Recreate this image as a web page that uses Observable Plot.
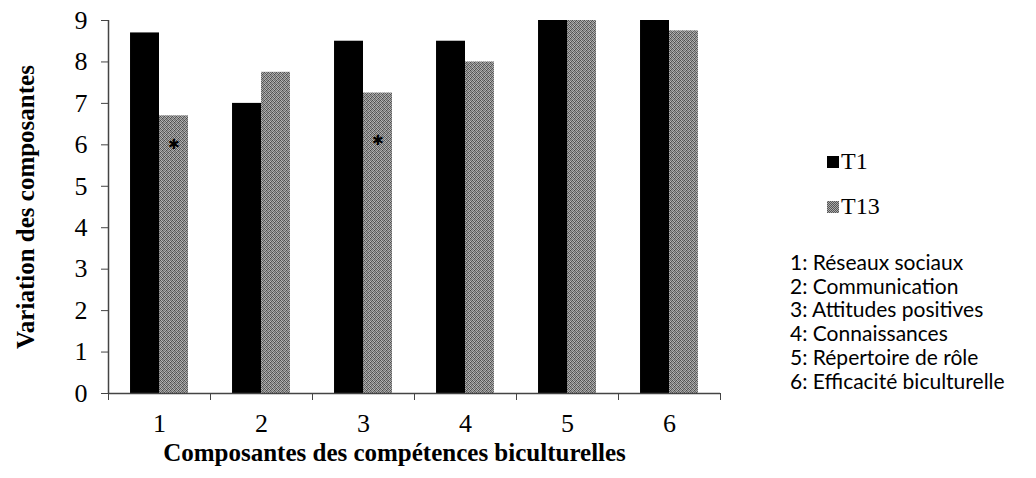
<!DOCTYPE html>
<html>
<head>
<meta charset="utf-8">
<script src="https://cdn.jsdelivr.net/npm/d3@7"></script>
<script src="https://cdn.jsdelivr.net/npm/@observablehq/plot@0.6"></script>
<style>
  html, body { margin: 0; padding: 0; background: #fff; }
  #wrap { position: relative; width: 1036px; height: 478px; }
  #legend { position: absolute; left: 0; top: 0; }
  #wrap svg g[aria-label$="tick label"] text { font-size: 26px; }
  .key { position: absolute; left: 827px; display: flex; align-items: center;
         font-family: "Liberation Serif", "Times New Roman", serif; font-size: 24px; color: #000; }
  .key .sw { width: 12px; height: 12px; margin-right: 2px; }
  .names { position: absolute; left: 790px; top: 250px;
           font-family: Lato, "Noto Sans", sans-serif; font-size: 21px; line-height: 23.7px; color: #000; white-space: nowrap; }
</style>
</head>
<body>
<div id="wrap"><div id="legend"></div></div>
<script>
// Biculturalism components measured at T1 and T13
const categories = [1, 2, 3, 4, 5, 6];
const componentNames = [
  "Réseaux sociaux",
  "Communication",
  "Attitudes positives",
  "Connaissances",
  "Répertoire de rôle",
  "Efficacité biculturelle"
];
const seriesNames = ["T1", "T13"];
const valuesT1 = [8.7, 7.0, 8.5, 8.5, 9.0, 9.0];
const valuesT13 = [6.7, 7.75, 7.25, 8.0, 9.0, 8.75];
// significance markers drawn on the T13 bars
const starCategories = [1, 3];
const starValues = [6.0, 6.1];
const yTicks = [0, 1, 2, 3, 4, 5, 6, 7, 8, 9];

// T13 is printed with a halftone grey: a small fixed dither tile
const ditherTile = [
  "#4d4d4d", "#b5b5b5", "#6e6e6e", "#9c9c9c",
  "#a6a6a6", "#5e5e5e", "#bdbdbd", "#555555",
  "#7a7a7a", "#adadad", "#4a4a4a", "#a0a0a0",
  "#b0b0b0", "#646464", "#999999", "#6a6a6a"
];
const seriesColors = ["#000000", "url(#t13-dither)"];
const barWidth = 0.284;   // in category units

const rows = [];
categories.forEach((c, i) => {
  rows.push({cat: c, series: "T1", value: valuesT1[i]});
  rows.push({cat: c, series: "T13", value: valuesT13[i]});
});
const stars = starCategories.map((c, i) => ({cat: c, value: starValues[i]}));
const boundaries = d3.range(categories.length + 1).map(i => categories[0] - 0.5 + i);

const serif = "Liberation Serif, Times New Roman, serif";

const chart = Plot.plot({
  width: 1036,
  height: 478,
  marginLeft: 108,
  marginRight: 316,
  marginTop: 20,
  marginBottom: 85,
  style: {fontFamily: serif, fontSize: "26px", color: "#000", background: "#fff"},
  x: {type: "linear", domain: [0.5, 6.5]},
  y: {domain: [0, 9]},
  color: {domain: seriesNames, range: seriesColors},
  marks: [
    Plot.rectY(rows, {
      x1: d => d.series === "T1" ? d.cat - barWidth : d.cat,
      x2: d => d.series === "T1" ? d.cat : d.cat + barWidth,
      y1: 0,
      y2: "value",
      fill: "series"
    }),
    Plot.text(stars, {x: d => d.cat + barWidth / 2, y: "value", text: () => "✱", fontSize: 14, fill: "#000"}),
    // axis lines
    Plot.ruleY([0], {stroke: "#444", strokeWidth: 1.5}),
    Plot.ruleX([boundaries[0]], {stroke: "#444", strokeWidth: 1.5}),
    // y axis
    Plot.axisY({ticks: yTicks, tickSize: 7, tickPadding: 14, tickFormat: d3.format("d"), label: null, stroke: "#444", fontSize: 26}),
    // x axis: ticks at category boundaries, labels at centres
    Plot.axisX({ticks: boundaries, tickSize: 7, tickFormat: () => "", label: null, stroke: "#444"}),
    Plot.axisX({ticks: categories, tickSize: 0, tickPadding: 20, tickFormat: d3.format("d"), label: null, fontSize: 26}),
    // axis titles
    Plot.text(["Variation des composantes"], {frameAnchor: "left", rotate: -90, dx: -83, textAnchor: "middle", fontWeight: "bold", fontSize: 25, fill: "#000"}),
    Plot.text(["Composantes des compétences biculturelles"], {frameAnchor: "bottom", dx: -20, dy: 67, fontWeight: "bold", fontSize: 25, fill: "#000"})
  ]
});

// dither pattern used by the T13 bars
const svgns = "http://www.w3.org/2000/svg";
const defs = document.createElementNS(svgns, "defs");
const pattern = document.createElementNS(svgns, "pattern");
pattern.setAttribute("id", "t13-dither");
pattern.setAttribute("patternUnits", "userSpaceOnUse");
pattern.setAttribute("width", 4);
pattern.setAttribute("height", 4);
ditherTile.forEach((c, i) => {
  const r = document.createElementNS(svgns, "rect");
  r.setAttribute("x", i % 4);
  r.setAttribute("y", Math.floor(i / 4));
  r.setAttribute("width", 1);
  r.setAttribute("height", 1);
  r.setAttribute("fill", c);
  pattern.appendChild(r);
});
defs.appendChild(pattern);
chart.insertBefore(defs, chart.firstChild);
document.getElementById("wrap").prepend(chart);

// legend and component key
const legend = document.getElementById("legend");
const keyTops = [163, 208];
const swatchCss = [
  "#000",
  "repeating-conic-gradient(#555 0% 25%, #aaa 0% 50%) 0 0 / 2px 2px"
];
seriesNames.forEach((s, i) => {
  const row = document.createElement("div");
  row.className = "key";
  row.style.top = (keyTops[i] - 15) + "px";
  const sw = document.createElement("span");
  sw.className = "sw";
  sw.style.background = swatchCss[i];
  row.appendChild(sw);
  row.appendChild(document.createTextNode(s));
  legend.appendChild(row);
});
const names = document.createElement("div");
names.className = "names";
names.innerHTML = categories.map((c, i) => `${c}: ${componentNames[i]}`).join("<br>");
legend.appendChild(names);
</script>
</body>
</html>
